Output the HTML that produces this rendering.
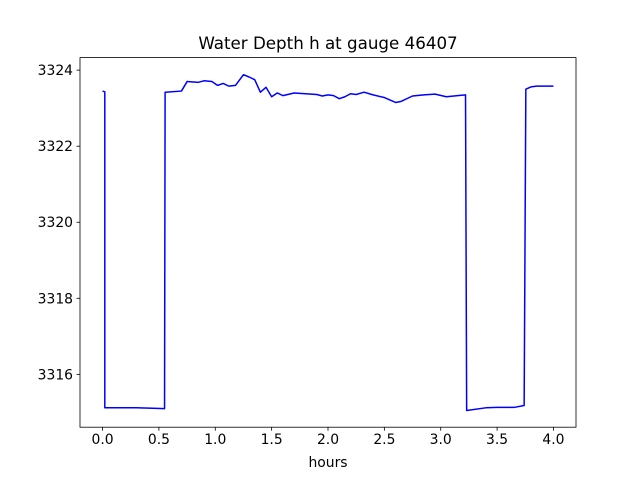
<!DOCTYPE html>
<html><head><meta charset="utf-8"><style>
body{margin:0;background:#fff}
svg text{font-family:"DejaVu Sans","Liberation Sans",sans-serif;fill:#000}
</style></head><body>
<svg id="chart" width="640" height="480" xmlns="http://www.w3.org/2000/svg">
<rect width="640" height="480" fill="#fff"/>
<text x="328" y="49" font-size="16.7" text-anchor="middle">Water Depth h at gauge 46407</text>
<g id="plot"></g>
<rect x="80" y="57.6" width="496" height="369.6" fill="none" stroke="#000" stroke-width="0.8"/>
<text x="328" y="467" font-size="13.9" text-anchor="middle">hours</text>
</svg>
<script>
const times=[0.0,0.02,0.02,0.3,0.55,0.555,0.7,0.75,0.85,0.9,0.97,1.02,1.07,1.12,1.18,1.25,1.3,1.35,1.4,1.45,1.5,1.55,1.6,1.7,1.8,1.9,1.95,2.0,2.05,2.1,2.15,2.2,2.25,2.32,2.4,2.5,2.6,2.65,2.75,2.85,2.95,3.05,3.15,3.22,3.23,3.4,3.5,3.65,3.74,3.755,3.8,3.85,4.0];
const depths=[3323.45,3323.43,3315.12,3315.12,3315.1,3323.42,3323.45,3323.7,3323.68,3323.72,3323.7,3323.6,3323.65,3323.58,3323.6,3323.88,3323.82,3323.75,3323.42,3323.55,3323.3,3323.4,3323.33,3323.4,3323.38,3323.36,3323.32,3323.35,3323.33,3323.25,3323.3,3323.38,3323.36,3323.42,3323.35,3323.28,3323.15,3323.18,3323.32,3323.35,3323.37,3323.3,3323.33,3323.35,3315.05,3315.12,3315.13,3315.13,3315.18,3323.5,3323.56,3323.58,3323.58];
const xTicks=[0.0,0.5,1.0,1.5,2.0,2.5,3.0,3.5,4.0];
const yTicks=[3316,3318,3320,3322,3324];
const L=80,R=576,T=57.6,B=427.2;
const xmin=-0.2,xmax=4.2,ymin=3314.61,ymax=3324.33;
const X=v=>L+(v-xmin)/(xmax-xmin)*(R-L);
const Y=v=>B-(v-ymin)/(ymax-ymin)*(B-T);
const NS="http://www.w3.org/2000/svg";
const g=document.getElementById('plot');
function mk(t,a){const e=document.createElementNS(NS,t);for(const k in a)e.setAttribute(k,a[k]);g.appendChild(e);return e;}
xTicks.forEach(v=>{
  const l=mk('line',{x1:X(v),x2:X(v),y1:B,y2:B+3.5,stroke:'#000','stroke-width':0.8});
  
  
  const t=mk('text',{x:X(v),y:B+17,'font-size':13.9,'text-anchor':'middle'});
  t.textContent=v.toFixed(1);
  
  
});
yTicks.forEach(v=>{
  const l=mk('line',{x1:L-3.5,x2:L,y1:Y(v),y2:Y(v),stroke:'#000','stroke-width':0.8});
  
  
  const t=mk('text',{x:L-7,y:Y(v)+5,'font-size':13.9,'text-anchor':'end'});
  t.textContent=v;
  
  
});
const p=mk('polyline',{points:times.map((t,i)=>X(t)+','+Y(depths[i])).join(' '),fill:'none',stroke:'#0000ff','stroke-width':1.5,'stroke-linejoin':'round'});


</script>
</body></html>
